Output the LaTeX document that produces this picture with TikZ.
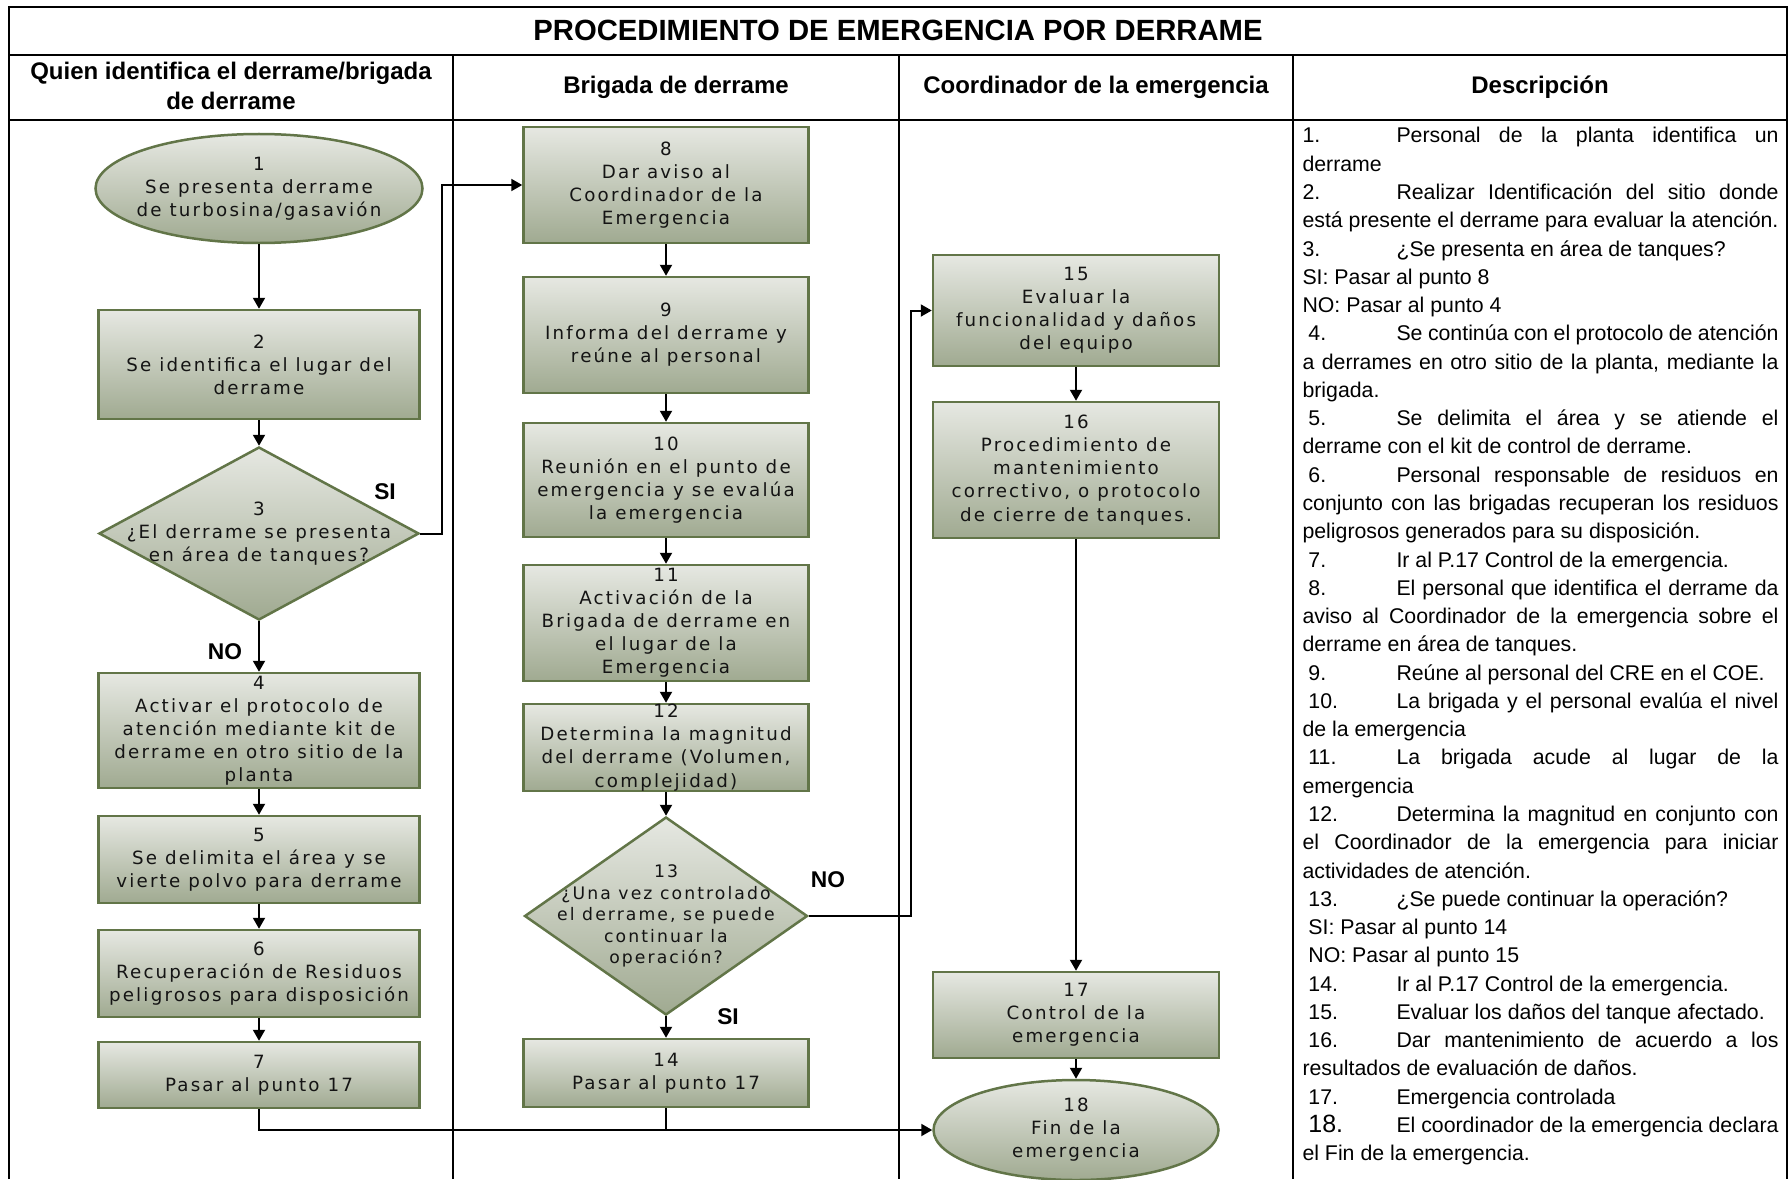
\documentclass[tikz,border=0pt]{standalone}
\usepackage{fontspec}
\setmainfont{Liberation Sans}
\newfontfamily\boxfont[LetterSpace=12]{DejaVu Sans}
\usetikzlibrary{shapes.geometric,arrows.meta}

\definecolor{boxline}{RGB}{98,117,72}
\definecolor{boxtop}{RGB}{230,232,226}
\definecolor{boxbot}{RGB}{160,170,145}
\definecolor{boxtext}{RGB}{20,20,20}

\newlength\numw \setlength\numw{37.6pt}
\newlength\descw \setlength\descw{190.4pt}
% numbered line, justified to the full column width
\newcommand\jnum[2]{\makebox[\descw][s]{\makebox[\numw][l]{#1}#2}}
% continuation line, justified
\newcommand\jfull[1]{\makebox[\descw][s]{#1}}
% numbered line, ragged
\newcommand\rnum[2]{\makebox[\numw][l]{#1}#2}

\begin{document}
\begin{tikzpicture}[x=0.4pt,y=-0.4pt,
  shapebox/.style={draw=boxline, line width=1pt, top color=boxtop, bottom color=boxbot, inner sep=0pt},
  stepbox/.style={shapebox, rectangle},
  endbox/.style={shapebox, ellipse},
  askbox/.style={shapebox, diamond},
  boxlabel/.style={font=\boxfont\fontsize{7.3pt}{9.24pt}\selectfont, align=center, inner sep=0pt, text=boxtext},
  arr/.style={line width=0.8pt, -{Triangle[length=4.4pt,width=4.8pt]}},
  link/.style={line width=0.8pt},
  rule/.style={line width=0.8pt},
  frame/.style={line width=1pt},
  answer/.style={font=\bfseries\fontsize{9.1pt}{11pt}\selectfont, inner sep=0pt},
  head/.style={font=\bfseries\fontsize{9.6pt}{12.3pt}\selectfont, align=center, inner sep=0pt},
  desc/.style={anchor=base west, inner sep=0pt, font=\fontsize{8.52pt}{11.3pt}\selectfont},
]
\useasboundingbox (0,0) rectangle (1791,1179);

% table frame and column rules
\draw[frame] (9,1179) -- (9,7) -- (1787,7) -- (1787,1179);
\draw[rule] (9,55) -- (1787,55);
\draw[rule] (9,120) -- (1787,120);
\foreach \cx in {453,899,1293} \draw[rule] (\cx,55) -- (\cx,1179);

% title and column headers
\node[font=\bfseries\fontsize{11.7pt}{14pt}\selectfont, inner sep=0pt] (title) at (898,30) {PROCEDIMIENTO DE EMERGENCIA POR DERRAME};
\node[head] (hdr1) at (231,86) {Quien identifica el derrame/brigada\\de derrame};
\node[head] (hdr2) at (676,87) {Brigada de derrame};
\node[head] (hdr3) at (1096,87) {Coordinador de la emergencia};
\node[head] (hdr4) at (1540,87) {Descripción};

% column 1
\node[endbox, minimum width=130.8pt, minimum height=43.6pt] (n1) at (259,188.5) {};
\node[boxlabel] (n1t) at (n1) {1\\Se presenta derrame\\de turbosina/gasavión};
\node[stepbox, minimum width=128.4pt, minimum height=43.6pt] (n2) at (259,364.5) {};
\node[boxlabel] (n2t) at (n2) {2\\Se identifica el lugar del\\derrame};
\node[askbox, minimum width=128pt, minimum height=69.2pt] (n3) at (259,533.5) {};
\node[boxlabel] (n3t) at (n3) {3\\¿El derrame se presenta\\en área de tanques?};
\node[stepbox, minimum width=128.4pt, minimum height=46pt] (n4) at (259,730.5) {};
\node[boxlabel] (n4t) at (n4) {4\\Activar el protocolo de\\atención mediante kit de\\derrame en otro sitio de la\\planta};
\node[stepbox, minimum width=128.4pt, minimum height=34.8pt] (n5) at (259,859.5) {};
\node[boxlabel] (n5t) at (n5) {5\\Se delimita el área y se\\vierte polvo para derrame};
\node[stepbox, minimum width=128.4pt, minimum height=34.8pt] (n6) at (259,973.5) {};
\node[boxlabel] (n6t) at (n6) {6\\Recuperación de Residuos\\peligrosos para disposición};
\node[stepbox, minimum width=128.4pt, minimum height=26.4pt] (n7) at (259,1075) {};
\node[boxlabel] (n7t) at (n7) {7\\Pasar al punto 17};

% column 2
\node[stepbox, minimum width=114pt, minimum height=46.4pt] (n8) at (666,185) {};
\node[boxlabel] (n8t) at (n8) {8\\Dar aviso al\\Coordinador de la\\Emergencia};
\node[stepbox, minimum width=114pt, minimum height=46.4pt] (n9) at (666,335) {};
\node[boxlabel] (n9t) at (n9) {9\\Informa del derrame y\\reúne al personal};
\node[stepbox, minimum width=114pt, minimum height=45.6pt] (n10) at (666,480) {};
\node[boxlabel] (n10t) at (n10) {10\\Reunión en el punto de\\emergencia y se evalúa\\la emergencia};
\node[stepbox, minimum width=114pt, minimum height=46.4pt] (n11) at (666,623) {};
\node[boxlabel] (n11t) at (n11) {11\\Activación de la\\Brigada de derrame en\\el lugar de la\\Emergencia};
\node[stepbox, minimum width=114pt, minimum height=34.8pt] (n12) at (666,747.5) {};
\node[boxlabel] (n12t) at (n12) {12\\Determina la magnitud\\del derrame (Volumen,\\complejidad)};
\node[askbox, minimum width=113.2pt, minimum height=79.2pt] (n13) at (666,916) {};
\node[boxlabel, font=\boxfont\fontsize{6.9pt}{8.6pt}\selectfont] (n13t) at (n13) {13\\¿Una vez controlado\\el derrame, se puede\\continuar la\\operación?};
\node[stepbox, minimum width=114pt, minimum height=27.2pt] (n14) at (666,1073) {};
\node[boxlabel] (n14t) at (n14) {14\\Pasar al punto 17};

% column 3
\node[stepbox, minimum width=114.4pt, minimum height=44.4pt] (n15) at (1076,310.5) {};
\node[boxlabel] (n15t) at (n15) {15\\Evaluar la\\funcionalidad y daños\\del equipo};
\node[stepbox, minimum width=114.4pt, minimum height=54.4pt] (n16) at (1076,470) {};
\node[boxlabel] (n16t) at (n16) {16\\Procedimiento de\\mantenimiento\\correctivo, o protocolo\\de cierre de tanques.};
\node[stepbox, minimum width=114.4pt, minimum height=34.4pt] (n17) at (1076,1015) {};
\node[boxlabel] (n17t) at (n17) {17\\Control de la\\emergencia};
\node[endbox, minimum width=114pt, minimum height=40pt] (n18) at (1076,1130) {};
\node[boxlabel] (n18t) at (n18) {18\\Fin de la\\emergencia};

% connectors
\coordinate (jogA) at (442,0);
\coordinate (jogB) at (911,0);
\draw[arr] (n1.south) -- (n2.north);
\draw[arr] (n2.south) -- (n3.north);
\draw[arr] (n3.south) -- (n4.north);
\draw[arr] (n4.south) -- (n5.north);
\draw[arr] (n5.south) -- (n6.north);
\draw[arr] (n6.south) -- (n7.north);
\draw[arr] (n3.east) -| (jogA |- n8.west) -- (n8.west);
\draw[arr] (n8.south) -- (n9.north);
\draw[arr] (n9.south) -- (n10.north);
\draw[arr] (n10.south) -- (n11.north);
\draw[arr] (n11.south) -- (n12.north);
\draw[arr] (n12.south) -- (n13.north);
\draw[arr] (n13.south) -- (n14.north);
\draw[arr] (n13.east) -| (jogB |- n15.west) -- (n15.west);
\draw[arr] (n15.south) -- (n16.north);
\draw[arr] (n16.south) -- (n17.north);
\draw[arr] (n17.south) -- (n18.north);
\draw[arr] (n7.south) |- (n18.west);
\draw[link] (n14.south) -- (n14.south |- n18.west);

% decision answers
\node[answer] (si3) at (385,492) {SI};
\node[answer] (no3) at (225,652) {NO};
\node[answer] (no13) at (828,880) {NO};
\node[answer] (si13) at (728,1017) {SI};

% description column
\foreach \line [count=\i] in {
  {\jnum{1.}{Personal de la planta identifica un}},
  {derrame},
  {\jnum{2.}{Realizar Identificación del sitio donde}},
  {está presente el derrame para evaluar la atención.},
  {\rnum{3.}{¿Se presenta en área de tanques?}},
  {SI: Pasar al punto 8},
  {NO: Pasar al punto 4},
  {\jnum{\ 4.}{Se continúa con el protocolo de atención}},
  {\jfull{a derrames en otro sitio de la planta, mediante la}},
  {brigada.},
  {\jnum{\ 5.}{Se delimita el área y se atiende el}},
  {derrame con el kit de control de derrame.},
  {\jnum{\ 6.}{Personal responsable de residuos en}},
  {\jfull{conjunto con las brigadas recuperan los residuos}},
  {peligrosos generados para su disposición.},
  {\rnum{\ 7.}{Ir al P.17 Control de la emergencia.}},
  {\jnum{\ 8.}{El personal que identifica el derrame da}},
  {\jfull{aviso al Coordinador de la emergencia sobre el}},
  {derrame en área de tanques.},
  {\rnum{\ 9.}{Reúne al personal del CRE en el COE.}},
  {\jnum{\ 10.}{La brigada y el personal evalúa el nivel}},
  {de la emergencia},
  {\jnum{\ 11.}{La brigada acude al lugar de la}},
  {emergencia},
  {\jnum{\ 12.}{Determina la magnitud en conjunto con}},
  {\jfull{el Coordinador de la emergencia para iniciar}},
  {actividades de atención.},
  {\rnum{\ 13.}{¿Se puede continuar la operación?}},
  {\ SI: Pasar al punto 14},
  {\ NO: Pasar al punto 15},
  {\rnum{\ 14.}{Ir al P.17 Control de la emergencia.}},
  {\rnum{\ 15.}{Evaluar los daños del tanque afectado.}},
  {\jnum{\ 16.}{Dar mantenimiento de acuerdo a los}},
  {resultados de evaluación de daños.},
  {\rnum{\ 17.}{Emergencia controlada}},
  {\jnum{\ {\fontsize{10pt}{11.3pt}\selectfont 18.}}{El coordinador de la emergencia declara}},
  {el Fin de la emergencia.}}
  \node[desc] (d\i) at (1302,{143+28.27*(\i-1)}) {\line};

\end{tikzpicture}
\end{document}
